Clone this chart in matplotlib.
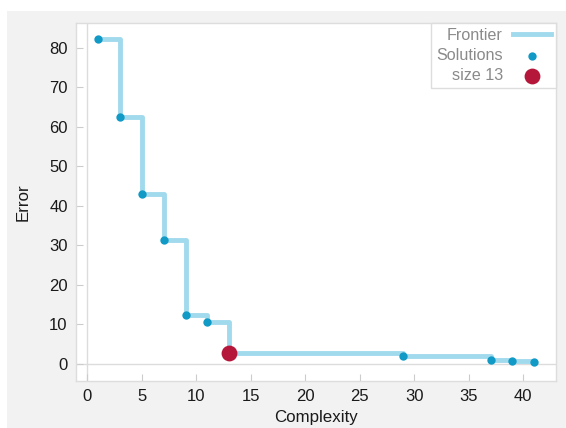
import matplotlib
matplotlib.use("Agg")
import matplotlib.pyplot as plt
from matplotlib.patches import Rectangle

complexity = [1, 3, 5, 7, 9, 11, 13, 29, 37, 39, 41]
error = [82.1, 62.5, 42.9, 31.3, 12.4, 10.6, 2.7, 2.1, 1.1, 0.7, 0.6]
highlight_x = [13]
highlight_y = [2.7]
xticks = [0, 5, 10, 15, 20, 25, 30, 35, 40]
yticks = [0, 10, 20, 30, 40, 50, 60, 70, 80]

plt.rcParams['font.family'] = ['Liberation Sans', 'DejaVu Sans']

W, H = 566, 428
fig = plt.figure(figsize=(W/100, H/100), dpi=100)
fig.patch.set_facecolor('white')
fig.patches.append(Rectangle((7/W, 0), 1 - 7/W, 1 - 11/H, transform=fig.transFigure,
                             facecolor='#f2f2f2', edgecolor='none', zorder=-10))

ax = fig.add_axes([76/W, 1-381/H, (556-76)/W, (381-22.7)/H])
ax.set_facecolor('white')

ax.axhline(0, color='#dcdcdc', lw=1, zorder=1)
ax.axvline(0, color='#dcdcdc', lw=1, zorder=1)
ax.step(complexity, error, where='post', color='#a0daec', lw=3.5, label='Frontier', zorder=2)
ax.scatter(complexity, error, s=36, color='#129ac6', zorder=3, label='Solutions', linewidths=0)
ax.scatter(highlight_x, highlight_y, s=130, color='#b5173a', zorder=4, label='size 13', linewidths=0)

ax.set_xlim(-1.05, 43.0)
ax.set_ylim(-4.3, 86.3)
ax.set_xticks(xticks)
ax.set_yticks(yticks)
ax.tick_params(direction='in', length=5, color='#cccccc', labelsize=12, labelcolor='#1a1a1a', pad=6)
for s in ax.spines.values():
    s.set_color('#dddddd')
    s.set_linewidth(1)
ax.set_xlabel('Complexity', fontsize=12.2, color='#1a1a1a', labelpad=4)
ax.set_ylabel('Error', fontsize=12.2, color='#1a1a1a', labelpad=13)

leg = ax.legend(loc='upper right', markerfirst=False, fontsize=11.6, frameon=True,
                fancybox=False, edgecolor='#dddddd', framealpha=1,
                borderaxespad=0.0, handlelength=2.4, labelspacing=0.33,
                borderpad=0.3, handletextpad=0.6)
for t in leg.get_texts():
    t.set_color('#8a8a8a')
    t.set_ha('right')
leg.get_frame().set_linewidth(1)

fig.savefig('out.png', dpi=100, facecolor=fig.get_facecolor())
